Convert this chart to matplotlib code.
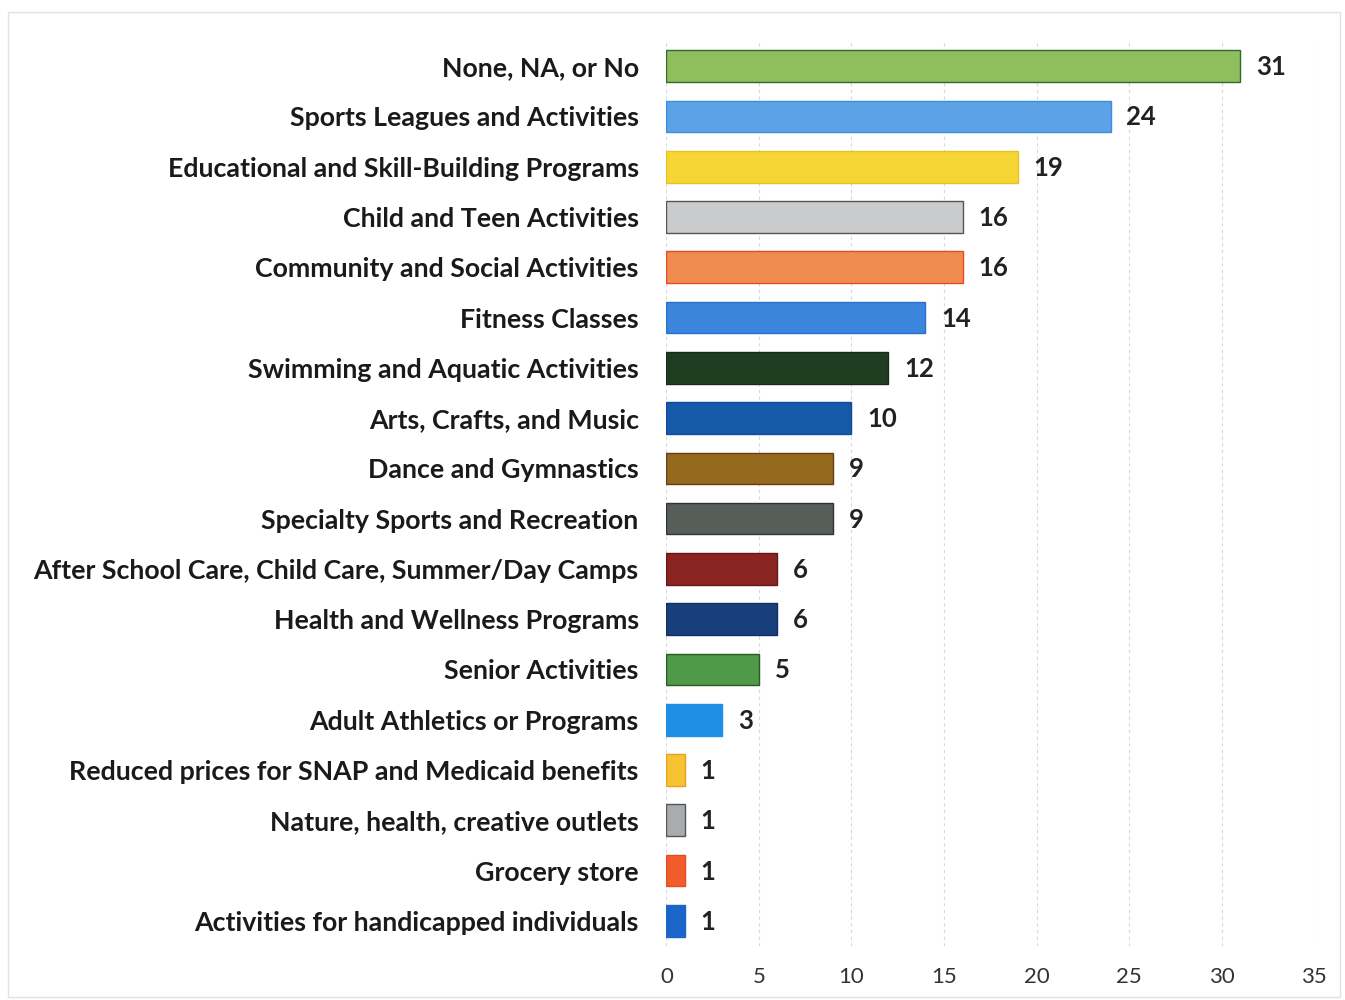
import matplotlib
matplotlib.use('Agg')
import matplotlib.pyplot as plt

# Категорії та значення (зверху вниз)
categories = [
    "None, NA, or No",
    "Sports Leagues and Activities",
    "Educational and Skill-Building Programs",
    "Child and Teen Activities",
    "Community and Social Activities",
    "Fitness Classes",
    "Swimming and Aquatic Activities",
    "Arts, Crafts, and Music",
    "Dance and Gymnastics",
    "Specialty Sports and Recreation",
    "After School Care, Child Care, Summer/Day Camps",
    "Health and Wellness Programs",
    "Senior Activities",
    "Adult Athletics or Programs",
    "Reduced prices for SNAP and Medicaid benefits",
    "Nature, health, creative outlets",
    "Grocery store",
    "Activities for handicapped individuals",
]
counts = [31, 24, 19, 16, 16, 14, 12, 10, 9, 9, 6, 6, 5, 3, 1, 1, 1, 1]
colors = [
    "#8fbf5c", "#5ea2e6", "#f6d635", "#c9cbcc", "#f08c4f", "#3b86dc",
    "#1f3d20", "#1659a8", "#966a1e", "#575d59", "#8a2422", "#183f7c",
    "#4f9a48", "#1f8fe6", "#f7c330", "#a9acaf", "#f25b2c", "#1b64c8",
]
edge_colors = [
    "#2f6a2a", "#3a8ee0", "#e8c020", "#555555", "#e84a20", "#2a70c8",
    "#1a2a1a", "#104a98", "#6a3a10", "#333333", "#6a1515", "#102e60",
    "#2a5a20", "#1f8fe6", "#e8a020", "#555555", "#e84a20", "#1b64c8",
]
ticks = [0, 5, 10, 15, 20, 25, 30, 35]

plt.rcParams['font.family'] = ['Lato', 'DejaVu Sans']

fig = plt.figure(figsize=(13.45, 10), dpi=100)
ax = fig.add_axes([0.4955, 0.054, 0.4815, 0.905])

y = list(range(len(categories)))
ax.barh(y, counts, height=0.63, color=colors, edgecolor=edge_colors,
        linewidth=1.0, zorder=3)

for yi, v in zip(y, counts):
    ax.text(v + 0.85, yi + 0.02, str(v), va='center', ha='left',
            fontsize=18.5, fontweight='bold', color='#222222')

ax.set_yticks(y)
ax.set_yticklabels(categories, fontsize=19.3, fontweight='bold', color='#1a1a1a')
ax.set_ylim(len(categories) - 0.5, -0.5)
ax.set_xlim(0, 35)
ax.set_xticks(ticks)
ax.set_xticklabels([str(t) for t in ticks], fontsize=16, color='#333333')
ax.tick_params(axis='y', length=0, pad=20)
ax.tick_params(axis='x', length=0, pad=15)

ax.grid(axis='x', color='#d4d7e6', linestyle=(0, (3, 3)), linewidth=0.8, zorder=0)
for s in ax.spines.values():
    s.set_visible(False)

# рамка навколо діаграми
fig.patches.append(plt.Rectangle((0.006, 0.003), 0.99, 0.985, transform=fig.transFigure,
                                 fill=False, edgecolor='#e2e2e2', linewidth=1.0))

fig.savefig('out.png', dpi=100)
